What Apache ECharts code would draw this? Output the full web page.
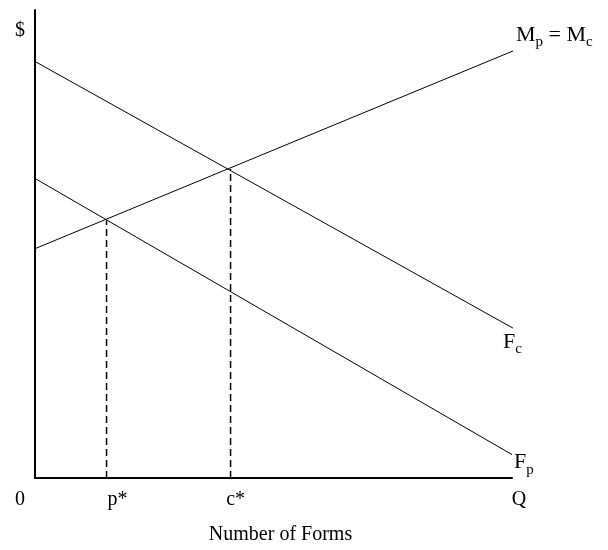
<!DOCTYPE html>
<html>
<head>
<meta charset="utf-8">
<script src="https://cdn.jsdelivr.net/npm/echarts@6/dist/echarts.min.js"></script>
<style>
html, body { margin: 0; padding: 0; background: #fff; }
#chart { width: 608px; height: 550px; }
</style>
</head>
<body>
<div id="chart"></div>
<script>
// end points of each curve, [quantity, $] in chart units (0..100 on both axes)
const mLine = [[0, 49], [102, 92]];
const fcLine = [[0, 89], [102, 31]];
const fpLine = [[0, 64], [100, 5]];
// dashed drops from the two crossings to the axis
const pDrop = [[15, 0], [15, 55]];
const cDrop = [[41, 0], [41, 66]];
// tick labels
const xTickValues = [0, 15, 41, 100];
const xTickLabels = ['0', 'p*', 'c*', 'Q'];
const yTickValues = [95.5];
const yTickLabels = ['$'];

const serif = 'Liberation Serif';
const chart = echarts.init(document.getElementById('chart'));

// horizontal nudges for the x tick labels (padding shifts a centred label)
const xLabelPad = [[0, 30, 0, 0], [0, 0, 0, 22], [0, 0, 0, 10], [0, 0, 0, 14]];
const xRich = {};
xLabelPad.forEach((p, i) => {
    xRich['t' + i] = { padding: p, fontFamily: serif, fontSize: 20, color: '#000' };
});

const subStyle = {
    s: { fontFamily: serif, fontSize: 15, color: '#000', lineHeight: 15, verticalAlign: 'bottom' }
};

function curve(data, text, offset) {
    return {
        type: 'line',
        data: data,
        symbol: 'none',
        clip: false,
        silent: true,
        lineStyle: { color: '#000', width: 1 },
        endLabel: {
            show: true,
            formatter: text,
            distance: 0,
            offset: offset,
            align: 'left',
            fontFamily: serif,
            fontSize: 22,
            lineHeight: 29,
            color: '#000',
            rich: subStyle
        }
    };
}

function drop(data) {
    return {
        type: 'line',
        data: data,
        symbol: 'none',
        silent: true,
        lineStyle: { color: '#000', width: 1.5, type: [7, 4] }
    };
}

const option = {
    animation: false,
    backgroundColor: '#fff',
    grid: { left: 35, top: 10, right: 96, bottom: 67 },
    xAxis: {
        type: 'value',
        min: 0,
        max: 100,
        splitLine: { show: false },
        axisTick: { show: false },
        axisLine: { lineStyle: { color: '#000', width: 2 } },
        axisLabel: {
            customValues: xTickValues,
            margin: 12,
            formatter: function (v) {
                const i = xTickValues.indexOf(v);
                return '{t' + i + '|' + xTickLabels[i] + '}';
            },
            rich: xRich
        },
        name: 'Number of Forms',
        nameLocation: 'middle',
        nameGap: 47,
        nameTextStyle: { fontFamily: serif, fontSize: 20, color: '#000', padding: [0, 0, 0, 14] }
    },
    yAxis: {
        type: 'value',
        min: 0,
        max: 100,
        splitLine: { show: false },
        axisTick: { show: false },
        axisLine: { lineStyle: { color: '#000', width: 2 } },
        axisLabel: {
            customValues: yTickValues,
            margin: 10,
            formatter: function (v) {
                return yTickLabels[yTickValues.indexOf(v)];
            },
            fontFamily: serif,
            fontSize: 20,
            color: '#000'
        }
    },
    series: [
        curve(mLine, 'M{s|p} = M{s|c}', [3, -16]),
        curve(fcLine, 'F{s|c}', [-10, 14]),
        curve(fpLine, 'F{s|p}', [2, 8]),
        drop(pDrop),
        drop(cDrop)
    ]
};

chart.setOption(option);
</script>
</body>
</html>
